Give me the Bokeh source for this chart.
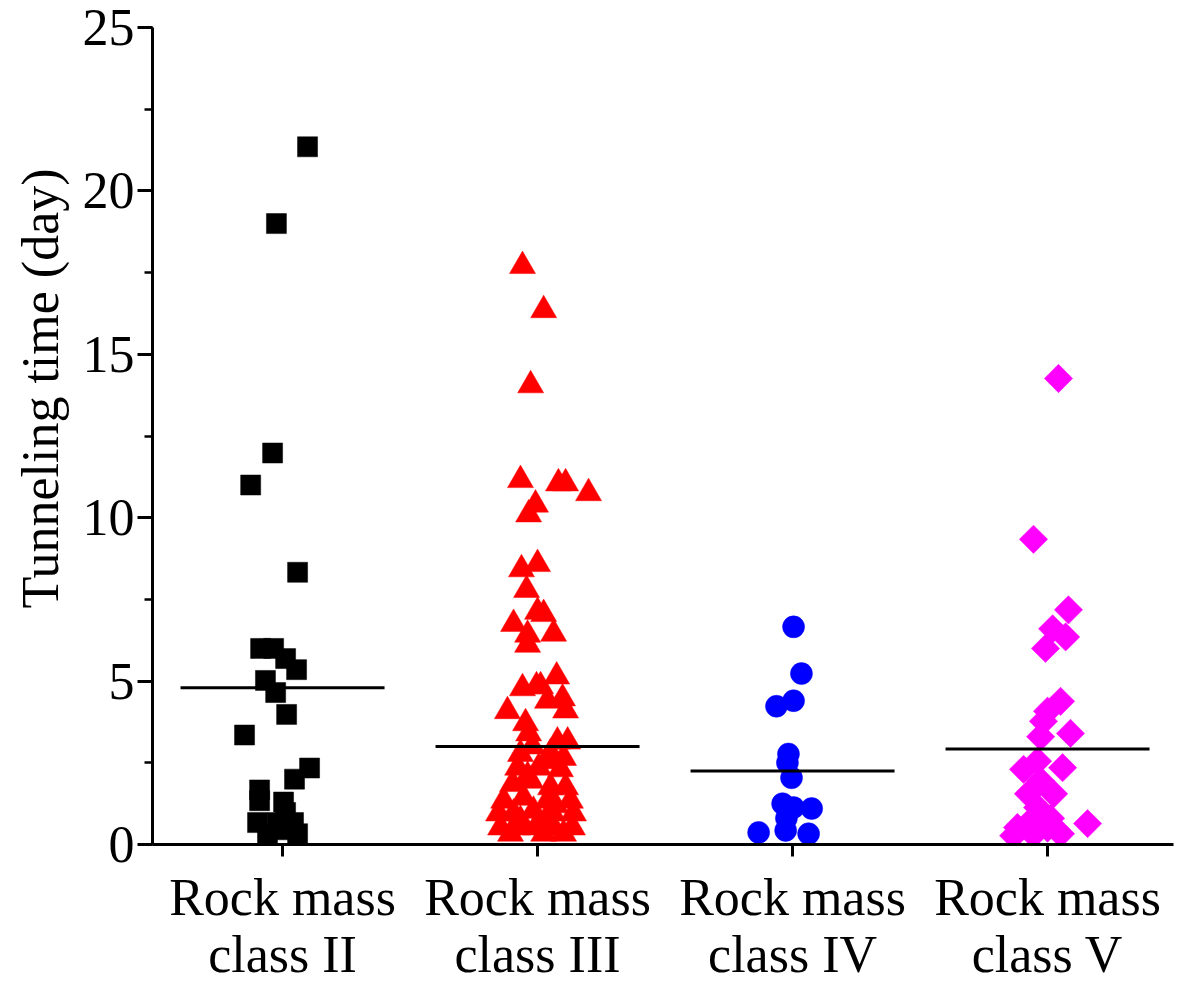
import math
from bokeh.plotting import figure
from bokeh.models import FixedTicker, SingleIntervalTicker, Range1d, Title
from bokeh.embed import file_html
from bokeh.resources import INLINE

# ---------------- data ----------------
categories = ["Rock mass\nclass II", "Rock mass\nclass III", "Rock mass\nclass IV", "Rock mass\nclass V"]
y_label = "Tunneling time (day)"

# horizontal jitter (in category units) and tunneling time (day)
c2_jitter = [0.098, -0.024, -0.039, -0.125, 0.059, -0.086, -0.035, 0.012, 0.055, -0.067,
             -0.027, 0.016, -0.149, 0.106, 0.047, -0.090, -0.090, 0.004, 0.012, -0.098,
             -0.020, 0.043, -0.059, 0.059, 0.012]
c2_time = [21.35, 19.0, 11.98, 11.0, 8.33, 6.0, 6.0, 5.69, 5.35, 5.02,
           4.65, 3.98, 3.35, 2.34, 2.0, 1.67, 1.34, 1.30, 0.98, 0.67,
           0.67, 0.67, 0.33, 0.33, 0.45]

c3_jitter = [-0.059, 0.024, -0.027, -0.067, 0.082, 0.110, 0.200, -0.008, -0.035, -0.063,
             0.000, -0.043, 0.000, 0.024, -0.094, 0.063, -0.039, -0.039, 0.075, -0.059,
             -0.004, 0.012, 0.098, 0.039, -0.118, 0.110, -0.047, -0.035, 0.078, 0.118,
             -0.067, 0.051, 0.102, -0.078, 0.004, 0.090, -0.098, -0.027, 0.051, 0.110,
             -0.133, -0.055, 0.039, 0.129, -0.153, -0.094, -0.016, 0.059, 0.141, -0.145,
             -0.078, -0.008, 0.063, 0.137, -0.106, 0.024, 0.102, -0.039, 0.031, -0.020,
             0.070, -0.067, 0.031]
c3_time = [17.7, 16.35, 14.05, 11.15, 11.05, 11.05, 10.75, 10.4, 10.1, 8.42,
           8.58, 7.79, 7.12, 7.05, 6.75, 6.45, 6.42, 6.11, 5.14, 4.78,
           4.84, 4.84, 4.47, 4.40, 4.08, 4.10, 3.71, 3.40, 3.15, 3.15,
           2.77, 2.80, 2.65, 2.35, 2.35, 2.30, 1.85, 1.95, 1.75, 1.75,
           1.34, 1.43, 1.34, 1.34, 0.95, 0.95, 1.03, 0.95, 0.95, 0.52,
           0.52, 0.52, 0.52, 0.52, 0.33, 0.33, 0.33, 2.10, 2.55, 3.00,
           1.20, 0.75, 0.75]

c4_jitter = [0.004, 0.035, 0.004, -0.063, -0.016, -0.020, -0.004, -0.039, 0.004, 0.075,
             -0.024, -0.027, -0.133, 0.063]
c4_time = [6.66, 5.23, 4.40, 4.23, 2.77, 2.50, 2.04, 1.25, 1.13, 1.10,
           0.80, 0.43, 0.37, 0.33]

c5_jitter = [0.043, -0.055, 0.082, 0.020, 0.071, -0.008, 0.051, 0.000, -0.016, 0.090,
             -0.027, -0.094, -0.039, 0.059, -0.027, -0.075, 0.024, -0.039, -0.055, 0.157,
             -0.118, 0.000, 0.051, -0.133, -0.055, 0.012]
c5_time = [14.26, 9.34, 7.18, 6.60, 6.35, 6.00, 4.38, 4.08, 3.77, 3.40,
           3.30, 2.30, 2.55, 2.35, 1.95, 1.55, 1.55, 1.13, 0.80, 0.64,
           0.52, 0.50, 0.33, 0.27, 0.30, 0.80]

group_means = [4.8, 3.0, 2.25, 2.92]

# ---------------- figure ----------------
FONT = "Liberation Serif"
FS = "52px"
W, H = 1175, 985
p = figure(width=W, height=H, output_backend="svg", toolbar_location=None,
           x_range=Range1d(0.490, 4.494), y_range=Range1d(0, 25),
           min_border_left=152, min_border_right=2, min_border_top=27, min_border_bottom=141)
p.outline_line_color = None
p.xgrid.visible = False
p.ygrid.visible = False
p.background_fill_color = "white"
p.border_fill_color = "white"

pos = [1, 2, 3, 4]
groups = [
    (c2_jitter, c2_time, "square", 20, "#000000", 0.0),
    (c3_jitter, c3_time, "triangle", 26, "#FF0000", 0.0),
    (c4_jitter, c4_time, "circle", 22, "#0000FF", 0.0),
    (c5_jitter, c5_time, "square", 20, "#FF00FF", math.pi / 4),
]
for k, (jit, t, mk, sz, col, ang) in enumerate(groups):
    xs = [pos[k] + j for j in jit]
    p.scatter(xs, t, marker=mk, size=sz, angle=ang, fill_color=col, line_color=col, line_width=0.5)

half = 0.4
p.segment(x0=[c - half for c in pos], y0=group_means, x1=[c + half for c in pos], y1=group_means,
          line_color="black", line_width=3)

# x axis
xa = p.xaxis[0]
xa.ticker = FixedTicker(ticks=pos, minor_ticks=[])
xa.major_label_overrides = {c: lab for c, lab in zip(pos, categories)}
xa.major_tick_in = 0
xa.major_tick_out = 12
xa.major_tick_line_width = 3
xa.axis_line_width = 3
xa.major_label_text_font = FONT
xa.major_label_text_font_size = FS
xa.major_label_text_color = "black"
xa.major_label_standoff = 12
xa.major_label_text_line_height = 1.0

# y axis
ya = p.yaxis[0]
ya.ticker = SingleIntervalTicker(interval=5, num_minor_ticks=2)
ya.major_tick_in = 0
ya.major_tick_out = 15
ya.minor_tick_in = 0
ya.minor_tick_out = 8
ya.major_tick_line_width = 3
ya.minor_tick_line_width = 2.5
ya.axis_line_width = 3
ya.major_label_text_font = FONT
ya.major_label_text_font_size = FS
ya.major_label_text_color = "black"
ya.major_label_standoff = 3

# y axis title as a side title, shifted up like the reference
p.add_layout(Title(text=y_label, align="left", offset=236, standoff=18, vertical_align="top",
                   text_font=FONT, text_font_size=FS, text_font_style="normal",
                   text_color="black"), "left")

open("out.html", "w").write(file_html(p, INLINE))
